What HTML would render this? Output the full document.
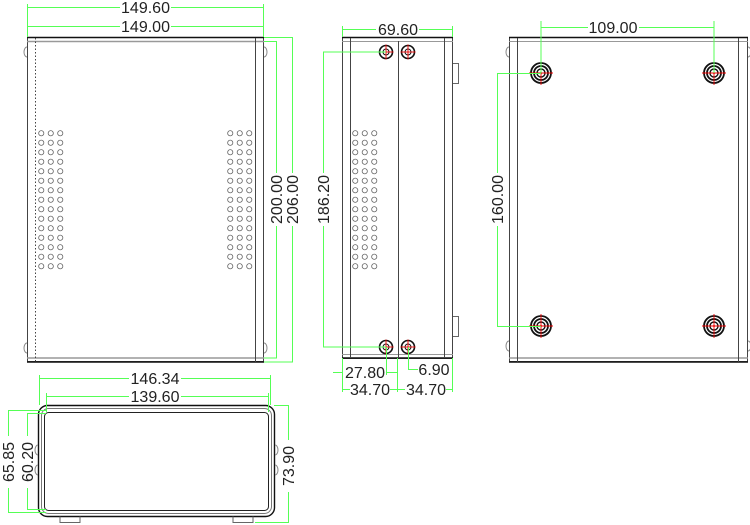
<!DOCTYPE html>
<html><head><meta charset="utf-8"><style>
html,body{margin:0;padding:0;background:#fff;width:750px;height:525px;overflow:hidden}
svg text{font-family:"Liberation Sans",sans-serif;font-size:16px;fill:#222}
</style></head><body>
<svg width="750" height="525" viewBox="0 0 750 525" xmlns="http://www.w3.org/2000/svg">
<defs>
<pattern id="ventA" x="36.5" y="128.5" width="9.5" height="9.5" patternUnits="userSpaceOnUse">
<circle cx="4.75" cy="4.75" r="2.6" fill="none" stroke="#666" stroke-width="0.8"/>
</pattern>
<pattern id="ventB" x="225.5" y="128.5" width="9.5" height="9.5" patternUnits="userSpaceOnUse">
<circle cx="4.75" cy="4.75" r="2.6" fill="none" stroke="#666" stroke-width="0.8"/>
</pattern>
<pattern id="ventC" x="350.5" y="128.5" width="9.5" height="9.5" patternUnits="userSpaceOnUse">
<circle cx="4.75" cy="4.75" r="2.6" fill="none" stroke="#666" stroke-width="0.8"/>
</pattern>
<g id="bolt"><circle r="6.5" fill="none" stroke="#111" stroke-width="1.6"/><circle r="3" fill="none" stroke="#111" stroke-width="1"/><line x1="-7.5" y1="0" x2="7.5" y2="0" stroke="#e00" stroke-width="0.9"/><line x1="0" y1="-7.5" x2="0" y2="7.5" stroke="#e00" stroke-width="0.9"/></g>
<g id="foot"><circle r="10" fill="none" stroke="#111" stroke-width="1.8"/><circle r="7" fill="none" stroke="#111" stroke-width="1.8"/><circle r="4" fill="none" stroke="#111" stroke-width="1.4"/><circle r="1" fill="#e00"/><line x1="-12" y1="0" x2="12" y2="0" stroke="#e00" stroke-width="0.9"/><line x1="0" y1="-12" x2="0" y2="12" stroke="#e00" stroke-width="0.9"/></g>
</defs>
<g fill="none" stroke="#444" stroke-width="1">
<rect x="27.5" y="37.5" width="236" height="324"/>
<line x1="27" y1="41.5" x2="264" y2="41.5" stroke="#999" stroke-width="1.5"/>
<line x1="27" y1="37.5" x2="264" y2="37.5" stroke="#111" stroke-width="1.5"/>
<line x1="27" y1="358" x2="264" y2="358" stroke="#999" stroke-width="1.5"/>
<line x1="27" y1="362" x2="264" y2="362" stroke="#111" stroke-width="1.5"/>
<line x1="35.5" y1="38" x2="35.5" y2="362" stroke-dasharray="1.5,2"/>
<line x1="255.5" y1="38" x2="255.5" y2="362"/>
<path d="M27 47 a3 5 0 0 0 0 10 M264 47 a3 5 0 0 1 0 10 M27 343 a3 5 0 0 0 0 10 M264 343 a3 5 0 0 1 0 10" stroke="#888"/>
<rect x="342.5" y="37.5" width="110" height="321"/>
<line x1="342" y1="37.5" x2="453" y2="37.5" stroke="#111" stroke-width="1.5"/>
<line x1="342" y1="41.5" x2="453" y2="41.5" stroke="#999"/>
<line x1="342" y1="358" x2="453" y2="358" stroke="#111" stroke-width="1.5"/>
<line x1="342" y1="354.5" x2="453" y2="354.5" stroke="#999"/>
<line x1="350.5" y1="38" x2="350.5" y2="358"/>
<line x1="398.5" y1="41" x2="398.5" y2="358"/>
<line x1="444.5" y1="38" x2="444.5" y2="358"/>
<path d="M453 63.5 h5.5 v20 h-5.5 M453 316.5 h5.5 v20 h-5.5" stroke="#666"/>
<rect x="509.5" y="37.5" width="238" height="324"/>
<line x1="509" y1="37.5" x2="748" y2="37.5" stroke="#111" stroke-width="1.5"/>
<line x1="509" y1="41.5" x2="748" y2="41.5" stroke="#999"/>
<line x1="509" y1="358" x2="748" y2="358" stroke="#999" stroke-width="1.5"/>
<line x1="509" y1="362" x2="748" y2="362" stroke="#111" stroke-width="1.5"/>
<line x1="517.5" y1="38" x2="517.5" y2="362"/>
<line x1="738.5" y1="38" x2="738.5" y2="362"/>
<path d="M509 47 a3 5 0 0 0 0 10 M748 47 a3 5 0 0 1 0 10 M509 341 a3 5 0 0 0 0 10 M748 341 a3 5 0 0 1 0 10" stroke="#888"/>
<rect x="38.5" y="405.5" width="236" height="111" rx="9" stroke="#111" stroke-width="1.4"/>
<rect x="41.5" y="408.5" width="230" height="105" rx="7" stroke="#777"/>
<rect x="44.5" y="412.5" width="224" height="98" rx="4" stroke="#222"/>
<path d="M60 516.5 v6 h20 v-6 M233 516.5 v6 h20 v-6" stroke="#666"/>
<path d="M38 445 a3 5 0 0 0 0 10 M38 465 a3 5 0 0 0 0 10 M275 445 a3 5 0 0 1 0 10 M275 465 a3 5 0 0 1 0 10" stroke="#888"/>
</g>
<rect x="36.5" y="128.5" width="28.5" height="142.5" fill="url(#ventA)"/>
<rect x="225.5" y="128.5" width="28.5" height="142.5" fill="url(#ventB)"/>
<rect x="350.5" y="128.5" width="28.5" height="142.5" fill="url(#ventC)"/>
<use href="#bolt" x="386" y="52"/><use href="#bolt" x="408" y="52"/>
<use href="#bolt" x="386" y="347"/><use href="#bolt" x="408" y="347"/>
<use href="#foot" x="541" y="73"/><use href="#foot" x="714" y="73"/>
<use href="#foot" x="541" y="326"/><use href="#foot" x="714" y="326"/>
<g stroke="#5f5" stroke-width="1" fill="none">
<path d="M27.5 37 V4 M263.5 37 V4 M27 7.5 H120 M171 7.5 H264"/>
<path d="M27 26.5 H120 M171 26.5 H264"/>
<path d="M264 41.5 H277 M264 358 H277 M276.5 41 V173 M276.5 226 V358"/>
<path d="M264 37.5 H293 M264 362 H293 M292.5 37 V173 M292.5 226 V362"/>
<path d="M342.5 37 V26 M452.5 37 V26 M342 29.5 H376 M419 29.5 H453"/>
<path d="M386 52 H323.5 V173 M323.5 226 V347 H386"/>
<path d="M342 372.5 H333 M386.5 347 V375 M397.5 358 V375 M386 372.5 H398"/>
<path d="M408.5 347 V369.5 H418"/>
<path d="M342.5 358 V392 M397.5 375 V392 M452.5 358 V392 M342 389.5 H350 M390 389.5 H405 M446 389.5 H453"/>
<path d="M541 73 V21 M714 73 V21 M541 27.5 H588 M639 27.5 H714"/>
<path d="M541 73.5 H497.5 V173 M497.5 226 V326.5 H541"/>
<path d="M39.5 405 V375 M270.5 405 V375 M39 378.5 H129 M181 378.5 H271"/>
<path d="M46.5 412 V393 M268.5 412 V393 M46 396.5 H129 M181 396.5 H269"/>
<path d="M46 410.5 H8 M46 512.5 H8 M8.5 410 V436 M8.5 488 V512"/>
<path d="M46 413.5 H27 M46 509.5 H27 M27.5 413 V436 M27.5 488 V509"/>
<path d="M274 405.5 H289 M255 522.5 H289 M288.5 405 V440 M288.5 492 V522"/>
</g>
<g>
<text x="145.5" y="13" text-anchor="middle">149.60</text>
<text x="145.5" y="32" text-anchor="middle">149.00</text>
<text x="398" y="35" text-anchor="middle">69.60</text>
<text x="613" y="33" text-anchor="middle">109.00</text>
<text x="365" y="378" text-anchor="middle">27.80</text>
<text x="434" y="375" text-anchor="middle">6.90</text>
<text x="370" y="395" text-anchor="middle">34.70</text>
<text x="426" y="395" text-anchor="middle">34.70</text>
<text x="155" y="384" text-anchor="middle">146.34</text>
<text x="155" y="402" text-anchor="middle">139.60</text>
<text transform="translate(282,199.5) rotate(-90)" text-anchor="middle">200.00</text>
<text transform="translate(298,199.5) rotate(-90)" text-anchor="middle">206.00</text>
<text transform="translate(329,199.5) rotate(-90)" text-anchor="middle">186.20</text>
<text transform="translate(503,199.5) rotate(-90)" text-anchor="middle">160.00</text>
<text transform="translate(14,462) rotate(-90)" text-anchor="middle">65.85</text>
<text transform="translate(33,462) rotate(-90)" text-anchor="middle">60.20</text>
<text transform="translate(294,466) rotate(-90)" text-anchor="middle">73.90</text>
</g>
</svg>
</body></html>
